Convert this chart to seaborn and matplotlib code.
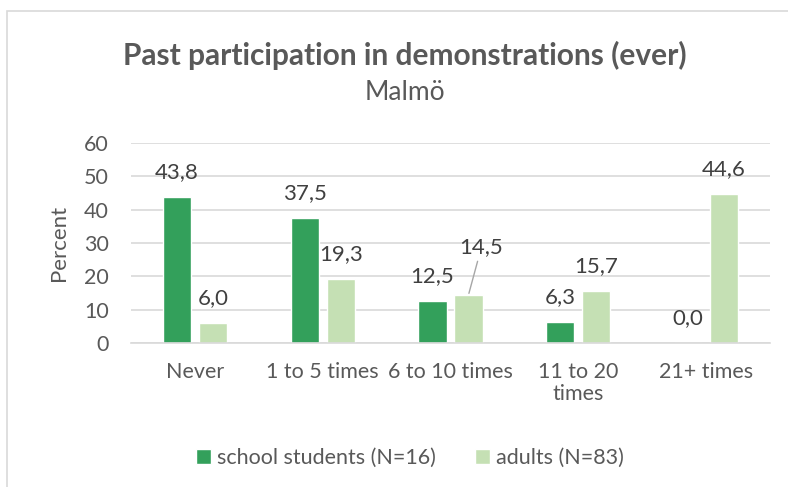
import numpy as np
import matplotlib.pyplot as plt
import pandas as pd
import seaborn as sns
from matplotlib.patches import Rectangle

categories = ["Never", "1 to 5 times", "6 to 10 times", "11 to 20 times", "21+ times"]
tick_labels = ["Never", "1 to 5 times", "6 to 10 times", "11 to 20\ntimes", "21+ times"]
students = [43.8, 37.5, 12.5, 6.3, 0.0]
adults = [6.0, 19.3, 14.5, 15.7, 44.6]
series = ["school students (N=16)", "adults (N=83)"]

df = pd.DataFrame({
    "cat": categories * 2,
    "group": [series[0]] * 5 + [series[1]] * 5,
    "val": students + adults,
})

sns.set_style("white")
plt.rcParams['font.family'] = ['Lato', 'DejaVu Sans']

fig = plt.figure(figsize=(7.88, 4.87), dpi=100)
ax = fig.add_axes([131/788, 1-343/487, 639/788, 200/487])

# light frame round the chart like the excel export
fig.patches.append(Rectangle((7/788, -0.1), 1.2, (1-11/487)+0.1, transform=fig.transFigure,
                             fill=False, edgecolor="#D9D9D9", linewidth=1.2))

sns.barplot(data=df, x="cat", y="val", hue="group", order=categories, hue_order=series,
            palette=["#33A05B", "#C5E0B4"], saturation=1, width=0.565, gap=0.22, ax=ax, legend=True)

ax.set_ylim(0, 60)
ax.set_yticks(range(0, 61, 10))
ax.grid(axis="y", color="#D9D9D9", linewidth=1.2)
ax.set_axisbelow(True)
for s in ["top", "right", "left"]:
    ax.spines[s].set_visible(False)
ax.spines["bottom"].set_color("#D9D9D9")
ax.spines["bottom"].set_linewidth(1.2)
ax.tick_params(length=0, labelsize=15.5, labelcolor="#595959")
ax.tick_params(axis="y", pad=16)
ax.tick_params(axis="x", pad=14)
ax.set_xticks(range(len(categories)))
ax.set_xticklabels(tick_labels, linespacing=1.1)
ax.set_xlabel("")
ax.set_ylabel("Percent", fontsize=16, color="#595959")
ax.yaxis.set_label_coords(-0.097, 0.5)

# data labels
for cont, vals in zip(ax.containers, [students, adults]):
    for bar, v in zip(cont.patches, vals):
        x = bar.get_x() + bar.get_width() / 2
        lab = f"{v:.1f}".replace(".", ",")
        if lab == "14,5":
            ax.annotate(lab, (x, bar.get_height()), xytext=(13, 48), textcoords="offset pixels",
                        ha="center", va="center", fontsize=16, color="#404040",
                        arrowprops=dict(arrowstyle="-", color="#A6A6A6", lw=1, shrinkA=1, shrinkB=1))
        else:
            ax.annotate(lab, (x, bar.get_height()), xytext=(0, 25), textcoords="offset pixels",
                        ha="center", va="center", fontsize=16, color="#404040")

ax.get_legend().remove()
h, l = ax.get_legend_handles_labels()
fig.legend(h, l, loc="center", bbox_to_anchor=(410/788, 1-458/487), ncol=2, frameon=False,
           fontsize=15.5, labelcolor="#595959", handlelength=0.7, handleheight=0.7,
           handletextpad=0.3, columnspacing=1.8)

fig.text(405/788, 1-55/487, "Past participation in demonstrations (ever)", ha="center", va="center",
         fontsize=21.5, fontweight="bold", color="#595959")
fig.text(405/788, 1-93/487, "Malmö", ha="center", va="center", fontsize=19, color="#595959")

plt.savefig("out.png", dpi=100)
